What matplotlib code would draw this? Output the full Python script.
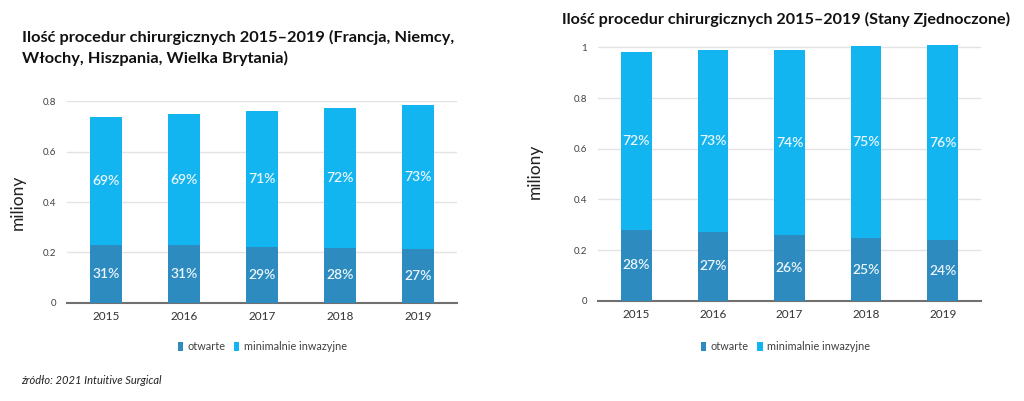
import numpy as np
import matplotlib.pyplot as plt

plt.rcParams['font.family'] = ['Lato', 'DejaVu Sans']

years = ["2015", "2016", "2017", "2018", "2019"]

# Europe (FR, DE, IT, ES, UK), millions
eu_open = [0.230, 0.230, 0.222, 0.218, 0.213]
eu_total = [0.738, 0.747, 0.759, 0.771, 0.783]
eu_open_pct = ["31%", "31%", "29%", "28%", "27%"]
eu_mis_pct = ["69%", "69%", "71%", "72%", "73%"]

# USA, millions
us_open = [0.280, 0.272, 0.261, 0.247, 0.240]
us_total = [0.980, 0.988, 0.988, 1.005, 1.009]
us_open_pct = ["28%", "27%", "26%", "25%", "24%"]
us_mis_pct = ["72%", "73%", "74%", "75%", "76%"]

c_open = "#2E8BC0"
c_mis = "#13B5F1"

fig = plt.figure(figsize=(10.24, 4.01), dpi=100)


def draw(ax, opn, total, p_open, p_mis, ylim, ticks, ticklabels):
    x = np.arange(len(years))
    mis = np.array(total) - np.array(opn)
    ax.bar(x, opn, width=0.4, color=c_open, label="otwarte", zorder=3)
    ax.bar(x, mis, bottom=opn, width=0.4, color=c_mis,
           label="minimalnie inwazyjne", zorder=3)
    for i in range(len(x)):
        ax.text(x[i], opn[i] / 2, p_open[i], ha="center", va="center",
                color="#EAF6FC", fontsize=10, fontweight="semibold", zorder=4)
        ax.text(x[i], opn[i] + mis[i] / 2, p_mis[i], ha="center", va="center",
                color="#EAF6FC", fontsize=10, fontweight="semibold", zorder=4)
    ax.set_xlim(-0.5, len(x) - 0.5)
    ax.set_ylim(*ylim)
    ax.set_yticks(ticks)
    ax.set_yticklabels(ticklabels, fontsize=7, color="#404040")
    ax.set_xticks(x)
    ax.set_xticklabels(years, fontsize=8.5, color="#333333")
    ax.tick_params(length=0, pad=6)
    ax.tick_params(axis="y", pad=8)
    ax.grid(axis="y", color="#E3E3E3", linewidth=1, zorder=0)
    for s in ["top", "right", "left"]:
        ax.spines[s].set_visible(False)
    ax.spines["bottom"].set_color("#707070")
    ax.spines["bottom"].set_linewidth(1.5)
    ax.set_ylabel("miliony", fontsize=12.5, color="#222222")


ax1 = fig.add_axes([0.0654, 0.2444, 0.381, 0.5037])
draw(ax1, eu_open, eu_total, eu_open_pct, eu_mis_pct, (0, 0.8),
     [0, 0.2, 0.4, 0.6, 0.8], ["0", "0.2", "0.4", "0.6", "0.8"])
ax1.yaxis.set_label_coords(-0.105, 0.5)

ax2 = fig.add_axes([0.584, 0.2494, 0.374, 0.6454])
draw(ax2, us_open, us_total, us_open_pct, us_mis_pct, (0, 1.02),
     [0, 0.2, 0.4, 0.6, 0.8, 1.0], ["0", "0.2", "0.4", "0.6", "0.8", "1"])
ax2.yaxis.set_label_coords(-0.145, 0.5)

fig.text(0.021, 0.925, "Ilość procedur chirurgicznych 2015–2019 (Francja, Niemcy,\nWłochy, Hiszpania, Wielka Brytania)",
         fontsize=11.8, fontweight="bold", ha="left", va="top", color="#111111",
         linespacing=1.45)
fig.text(0.549, 0.952, "Ilość procedur chirurgicznych 2015–2019 (Stany Zjednoczone)",
         fontsize=11.6, fontweight="bold", ha="left", va="center", color="#111111")

for ax, cx in [(ax1, 0.256), (ax2, 0.767)]:
    h, l = ax.get_legend_handles_labels()
    fig.legend(h, l, loc="center", bbox_to_anchor=(cx, 0.135), ncol=2,
               frameon=False, fontsize=7.8, handlelength=0.5, handleheight=0.9,
               handletextpad=0.4, columnspacing=0.8, labelcolor="#404040")

fig.text(0.021, 0.05, "źródło: 2021 Intuitive Surgical", fontsize=8,
         style="italic", ha="left", va="center", color="#222222")

fig.savefig("out.png", dpi=100)
